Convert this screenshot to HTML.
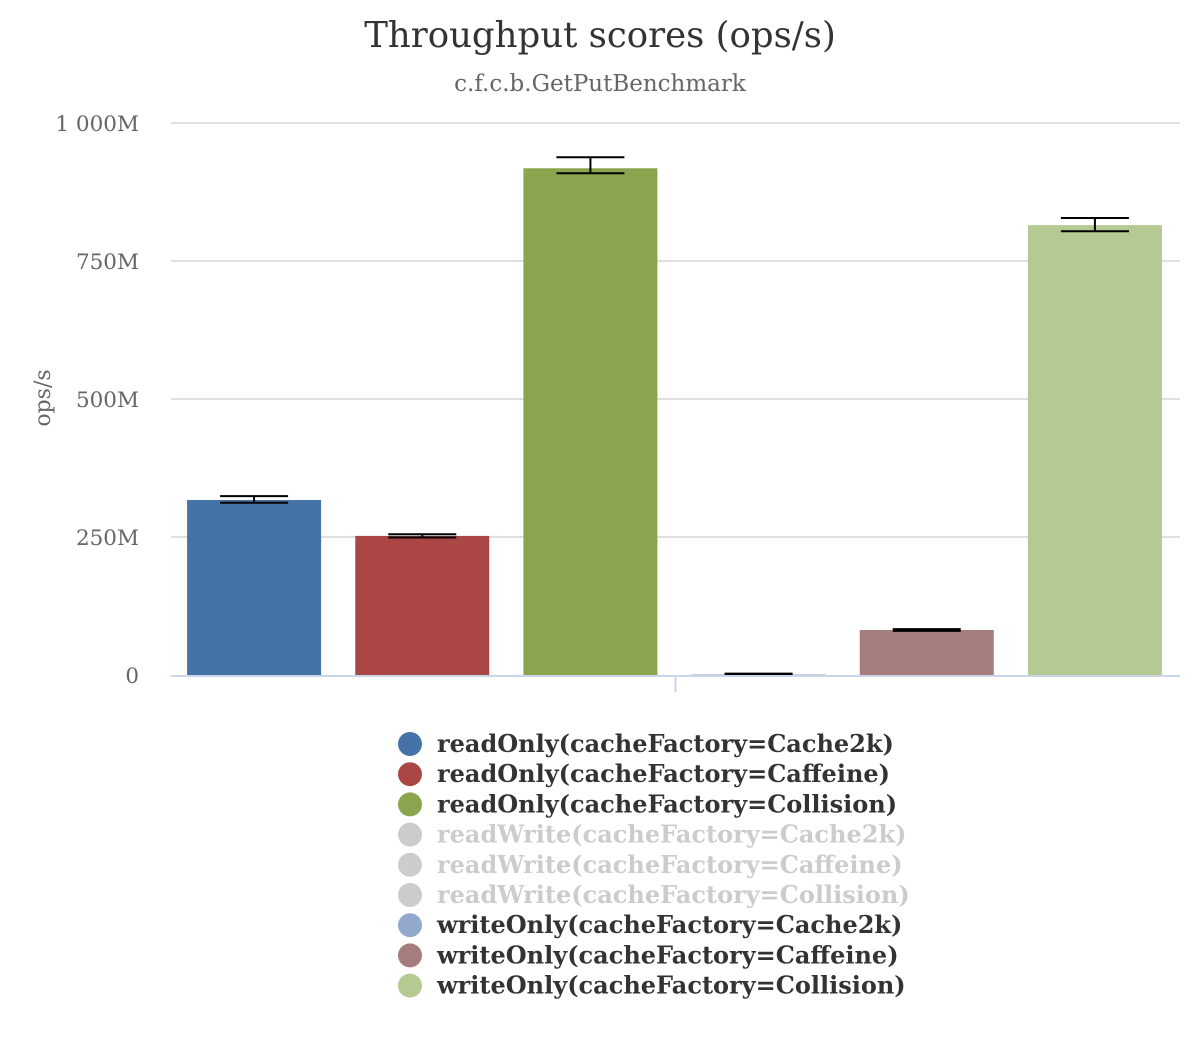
<!DOCTYPE html>
<html><head><meta charset="utf-8"><style>
body{margin:0;background:#fff;}
svg{display:block;font-family:"DejaVu Serif","Liberation Serif",serif;}
</style></head><body>
<svg id="chart" width="1200" height="1040">
<text x="600" y="47" text-anchor="middle" font-size="35.5" fill="#333">Throughput scores (ops/s)</text>
<text x="600" y="91" text-anchor="middle" font-size="23" fill="#666">c.f.c.b.GetPutBenchmark</text>
<text transform="translate(50,398) rotate(-90)" text-anchor="middle" font-size="22" fill="#666">ops/s</text>
<g id="grid"></g><g id="bars"></g><g id="legend"></g>
</svg>
<script>
const names=["readOnly(cacheFactory=Cache2k)","readOnly(cacheFactory=Caffeine)","readOnly(cacheFactory=Collision)","readWrite(cacheFactory=Cache2k)","readWrite(cacheFactory=Caffeine)","readWrite(cacheFactory=Collision)","writeOnly(cacheFactory=Cache2k)","writeOnly(cacheFactory=Caffeine)","writeOnly(cacheFactory=Collision)"];
const colors=["#4572a7","#aa4643","#89a54e","#cccccc","#cccccc","#cccccc","#92a8cd","#a47d7c","#b5ca92"];
const visible=[true,true,true,false,false,false,true,true,true];
const values=[317,252,918,0,0,0,1,81.5,815];
const errLow=[312,249,909,0,0,0,0.5,80,804];
const errHigh=[324,255,938,0,0,0,2.5,83,828];
const yTicks=[0,250,500,750,1000];
const yTickLabels=["0","250M","500M","750M","1 000M"];
const NS="http://www.w3.org/2000/svg";
const X0=171,X1=1180,Y0=675,Y1=123,YMAX=1000;
const y=v=>Y0-(v/YMAX)*(Y0-Y1);
function mk(tag,attrs,parent){const e=document.createElementNS(NS,tag);for(const k in attrs)e.setAttribute(k,attrs[k]);parent.appendChild(e);return e;}
const grid=document.getElementById('grid');
yTicks.forEach((t,i)=>{
  if(t>0){const l=mk('line',{x1:X0,x2:X1,y1:y(t),y2:y(t),stroke:'#e0e0e0','stroke-width':2},grid);
  
  }
  const tx=mk('text',{x:139,y:y(t)+8,'text-anchor':'end','font-size':21.5,fill:'#666'},grid);
  tx.textContent=yTickLabels[i];
  
  
});
const shown=values.map((v,i)=>i).filter(i=>visible[i]);
const bars=document.getElementById('bars');
const slot=(X1-X0)/shown.length,bw=134;
shown.forEach((si,k)=>{
  const cx=X0+slot*(k+0.5)-1;
  const r=mk('rect',{x:cx-bw/2,y:y(values[si]),width:bw,height:Y0-y(values[si]),fill:colors[si]},bars);
  
  
  const g=mk('g',{stroke:'#000','stroke-width':2},bars);
  
  
  mk('line',{x1:cx,x2:cx,y1:y(errHigh[si]),y2:y(errLow[si])},g);
  mk('line',{x1:cx-34,x2:cx+34,y1:y(errHigh[si]),y2:y(errHigh[si])},g);
  mk('line',{x1:cx-34,x2:cx+34,y1:y(errLow[si]),y2:y(errLow[si])},g);
});
const ax=mk('line',{x1:X0,x2:X1,y1:Y0+1,y2:Y0+1,stroke:'#ccd6eb','stroke-width':2},bars);


const tk=mk('line',{x1:(X0+X1)/2,x2:(X0+X1)/2,y1:Y0,y2:Y0+17,stroke:'#ccd6eb','stroke-width':2},bars);


const lg=document.getElementById('legend');
names.forEach((n,i)=>{
  const yy=744+i*30.2;
  const g=mk('g',{},lg);
  
  
  mk('circle',{cx:410,cy:yy,r:12,fill:colors[i]},g);
  const t=mk('text',{x:437,y:yy+8,'font-size':24,'font-weight':'bold',fill:visible[i]?'#333':'#cccccc'},g);
  t.textContent=n;
});
</script>
</body></html>
